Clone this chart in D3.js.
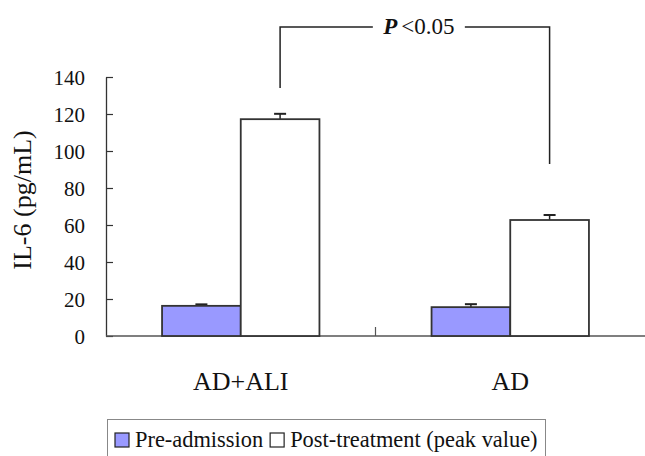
<!DOCTYPE html>
<html><head><meta charset="utf-8">
<script src="https://cdn.jsdelivr.net/npm/d3@7"></script>
<style>body{margin:0;background:#fff}svg{display:block}</style>
</head><body><svg id="c" width="645" height="456"></svg>
<script>
const categories = ["AD+ALI", "AD"];
const seriesNames = ["Pre-admission", "Post-treatment (peak value)"];
const preValues = [16.3, 15.6];
const preErrors = [0.8, 1.6];
const postValues = [117.2, 62.7];
const postErrors = [2.9, 2.7];
const yTicks = [0, 20, 40, 60, 80, 100, 120, 140];
const yTitle = "IL-6 (pg/mL)";
// significance bracket (data units): top, left foot, right foot
const bracketLevels = [167, 134, 93];
const sigLabel = "<0.05";

const FONT = "'Liberation Serif', 'Times New Roman', Times, serif";
const svg = d3.select("#c").attr("font-family", FONT);
const L = 106, R = 645, T = 77, B = 336;
const y = d3.scaleLinear().domain([0, 140]).range([B, T]);
const x = d3.scaleBand().domain(categories).range([L, R]);
const sub = d3.scaleBand().domain(seriesNames).range([x.bandwidth()*0.208, x.bandwidth()*0.792]);
const colors = ["#9999ff", "#ffffff"];
const stroke = "#333";

// y axis
const yAxis = d3.axisLeft(y).tickValues(yTicks).tickSizeInner(-7).tickSizeOuter(0).tickPadding(21);
const gy = svg.append("g").attr("transform", `translate(${L},0)`).call(yAxis).attr("font-family", FONT);
gy.select(".domain").attr("stroke", stroke).attr("stroke-width", 1.3);
gy.selectAll(".tick line").attr("stroke", stroke).attr("stroke-width", 1.2);
gy.selectAll(".tick text").attr("font-size", 21).attr("fill", "#111").attr("dy", "0.34em").attr("font-family", FONT);

svg.append("text").attr("transform", `translate(31,200) rotate(-90)`).attr("text-anchor", "middle")
  .attr("font-size", 26).attr("fill", "#111").text(yTitle);

// x axis
svg.append("line").attr("x1", L).attr("x2", R).attr("y1", B).attr("y2", B).attr("stroke", "#555").attr("stroke-width", 1.3);
categories.slice(1).forEach(c => {
  svg.append("line").attr("x1", x(c)).attr("x2", x(c)).attr("y1", B).attr("y2", B - 9).attr("stroke", "#555").attr("stroke-width", 1.2);
});
categories.forEach(c => {
  svg.append("text").attr("x", x(c) + x.bandwidth()/2).attr("y", 390).attr("text-anchor", "middle")
    .attr("font-size", 26).attr("fill", "#111").text(c);
});

// bars
const data = [];
categories.forEach((c, i) => {
  data.push({c, s: seriesNames[0], v: preValues[i], e: preErrors[i], k: 0});
  data.push({c, s: seriesNames[1], v: postValues[i], e: postErrors[i], k: 1});
});
const g = svg.append("g");
data.forEach(d => {
  const bx = x(d.c) + sub(d.s), bw = sub.bandwidth();
  const cx = bx + bw/2;
  g.append("line").attr("x1", cx).attr("x2", cx).attr("y1", y(d.v)).attr("y2", y(d.v + d.e)).attr("stroke", "#222").attr("stroke-width", 1.5);
  g.append("line").attr("x1", cx - 6).attr("x2", cx + 6).attr("y1", y(d.v + d.e)).attr("y2", y(d.v + d.e)).attr("stroke", "#222").attr("stroke-width", 2);
  g.append("rect").attr("x", bx).attr("y", y(d.v)).attr("width", bw).attr("height", B - y(d.v))
    .attr("fill", colors[d.k]).attr("stroke", stroke).attr("stroke-width", 1.8);
});

// significance bracket
const lx = x(categories[0]) + sub(seriesNames[1]) + sub.bandwidth()/2;
const rx = x(categories[1]) + sub(seriesNames[1]) + sub.bandwidth()/2;
const ty = y(bracketLevels[0]);
const mid = (lx + rx)/2;
const bg = svg.append("g").attr("stroke", "#222").attr("stroke-width", 1.5).attr("fill", "none");
bg.append("path").attr("d", `M${lx},${y(bracketLevels[1])}V${ty}H${mid - 42}`);
bg.append("path").attr("d", `M${rx},${y(bracketLevels[2])}V${ty}H${mid + 50}`);
const st = svg.append("text").attr("x", mid + 4).attr("y", ty + 7).attr("text-anchor", "middle").attr("font-size", 23).attr("fill", "#111");
st.append("tspan").attr("font-weight", "bold").attr("font-style", "italic").text("P");
st.append("tspan").attr("dx", 4).text(sigLabel);

// legend
svg.append("rect").attr("x", 107.5).attr("y", 419.5).attr("width", 438).attr("height", 45).attr("fill", "none").attr("stroke", "#888").attr("stroke-width", 1);
const leg = svg.append("g");
let lxp = 115;
seriesNames.forEach((s, i) => {
  leg.append("rect").attr("x", lxp).attr("y", 433).attr("width", 14).attr("height", 14).attr("fill", colors[i]).attr("stroke", "#222").attr("stroke-width", 1.2);
  const t = leg.append("text").attr("x", lxp + 20).attr("y", 447).attr("font-size", 22.4).attr("fill", "#111").text(s);
  lxp += 20 + t.node().getComputedTextLength() + 7;
});
</script></body></html>
